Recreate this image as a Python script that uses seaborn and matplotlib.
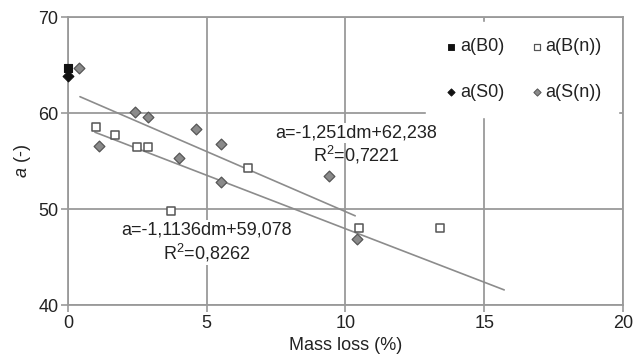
import matplotlib
matplotlib.use("Agg")
import matplotlib.pyplot as plt
import seaborn as sns
import pandas as pd
import numpy as np

# Measured a-values against mass loss
b0_x = [0.0]
b0_y = [64.7]
bn_x = [1.0, 1.7, 2.5, 2.9, 3.7, 6.5, 10.5, 13.4]
bn_y = [58.5, 57.7, 56.5, 56.5, 49.8, 54.3, 48.0, 48.0]
s0_x = [0.0]
s0_y = [63.9]
sn_x = [0.4, 1.1, 2.4, 2.9, 4.0, 4.6, 5.5, 5.5, 9.4, 10.4]
sn_y = [64.7, 56.6, 60.1, 59.6, 55.3, 58.3, 56.8, 52.8, 53.4, 46.9]

# Linear trend lines: slope, intercept, x-range
fit_upper = dict(slope=-1.251, intercept=62.238, x0=0.43, x1=10.35,
                 label1="a=-1,251dm+62,238", label2="R$^2$=0,7221")
fit_lower = dict(slope=-1.1136, intercept=59.078, x0=0.97, x1=15.72,
                 label1="a=-1,1136dm+59,078", label2="R$^2$=0,8262")

x_ticks = [0, 5, 10, 15, 20]
y_ticks = [40, 50, 60, 70]

sns.set_theme(style="white")
plt.rcParams["font.family"] = ["Liberation Sans", "DejaVu Sans"]
plt.rcParams["mathtext.fontset"] = "custom"
plt.rcParams["mathtext.rm"] = "Liberation Sans"
plt.rcParams["mathtext.it"] = "Liberation Sans:italic"

FS = 13
TXT = "#222222"
GRID = "#9a9a9a"

fig = plt.figure(figsize=(6.34, 3.61), dpi=100)
ax = fig.add_axes([0.1073, 0.1551, 0.8753, 0.7978])

df = pd.concat([
    pd.DataFrame({"x": b0_x, "y": b0_y, "series": "a(B0)"}),
    pd.DataFrame({"x": bn_x, "y": bn_y, "series": "a(B(n))"}),
    pd.DataFrame({"x": s0_x, "y": s0_y, "series": "a(S0)"}),
    pd.DataFrame({"x": sn_x, "y": sn_y, "series": "a(S(n))"}),
])

styles = {
    "a(B0)": dict(marker="s", s=40, color="#111111", edgecolor="#111111", linewidth=0.8),
    "a(B(n))": dict(marker="s", s=40, color="white", edgecolor="#555555", linewidth=1.1),
    "a(S0)": dict(marker="D", s=30, color="#111111", edgecolor="#111111", linewidth=0.8),
    "a(S(n))": dict(marker="D", s=30, color="#8a8a8a", edgecolor="#555555", linewidth=0.9),
}

# trend lines
for fit in (fit_upper, fit_lower):
    xs = np.array([fit["x0"], fit["x1"]])
    sns.lineplot(x=xs, y=fit["slope"] * xs + fit["intercept"], ax=ax,
                 color="#8c8c8c", linewidth=1.2, zorder=3)

for name in ["a(B(n))", "a(S(n))", "a(B0)", "a(S0)"]:
    sub = df[df["series"] == name]
    sns.scatterplot(data=sub, x="x", y="y", ax=ax, zorder=6, clip_on=False, **styles[name])

ax.set_xlim(0, 20)
ax.set_ylim(40, 70)
ax.set_xticks(x_ticks)
ax.set_yticks(y_ticks)
ax.grid(True, color=GRID, linewidth=1.3)
ax.set_axisbelow(True)
for sp in ax.spines.values():
    sp.set_color(GRID)
    sp.set_linewidth(1.3)
ax.tick_params(axis="both", labelsize=FS, colors=GRID, labelcolor=TXT,
               length=5, width=1.2, direction="out", bottom=True, left=True, pad=2)

ax.set_xlabel("Mass loss (%)", fontsize=FS, color=TXT, labelpad=4)
ax.set_ylabel(r"$a$ (-)", fontsize=FS, color=TXT, labelpad=4)

# equation annotations
box = dict(facecolor="white", edgecolor="none", pad=1.0)
ax.text(10.38, 57.9, fit_upper["label1"], fontsize=FS, ha="center", va="center",
        color=TXT, bbox=box, zorder=4)
ax.text(10.38, 55.6, fit_upper["label2"], fontsize=FS, ha="center", va="center",
        color=TXT, zorder=4)
ax.text(4.99, 47.8, fit_lower["label1"], fontsize=FS, ha="center", va="center",
        color=TXT, bbox=box, zorder=4)
ax.text(4.99, 45.45, fit_lower["label2"], fontsize=FS, ha="center", va="center",
        color=TXT, bbox=box, zorder=4)

# legend with white box over the grid, no frame line
handles, labels = [], []
for name in ["a(B0)", "a(S0)", "a(B(n))", "a(S(n))"]:
    st = styles[name]
    h = ax.scatter([], [], marker=st["marker"], s=st["s"] * 0.45, color=st["color"],
                   edgecolor=st["edgecolor"], linewidth=st["linewidth"] * 0.8)
    handles.append(h)
    labels.append(name)
leg = ax.legend(handles, labels, ncol=2, loc="upper right", bbox_to_anchor=(0.998, 0.995),
                frameon=True, fontsize=FS, handletextpad=0.0, columnspacing=1.3,
                labelspacing=1.6, borderpad=0.9, handlelength=1.0, borderaxespad=0.2)
leg.get_frame().set_facecolor("white")
leg.get_frame().set_edgecolor("white")
leg.get_frame().set_alpha(1.0)
leg.get_frame().set_boxstyle("square", pad=0)
leg.set_zorder(5)
for t in leg.get_texts():
    t.set_color(TXT)

fig.savefig("out.png", dpi=100)
